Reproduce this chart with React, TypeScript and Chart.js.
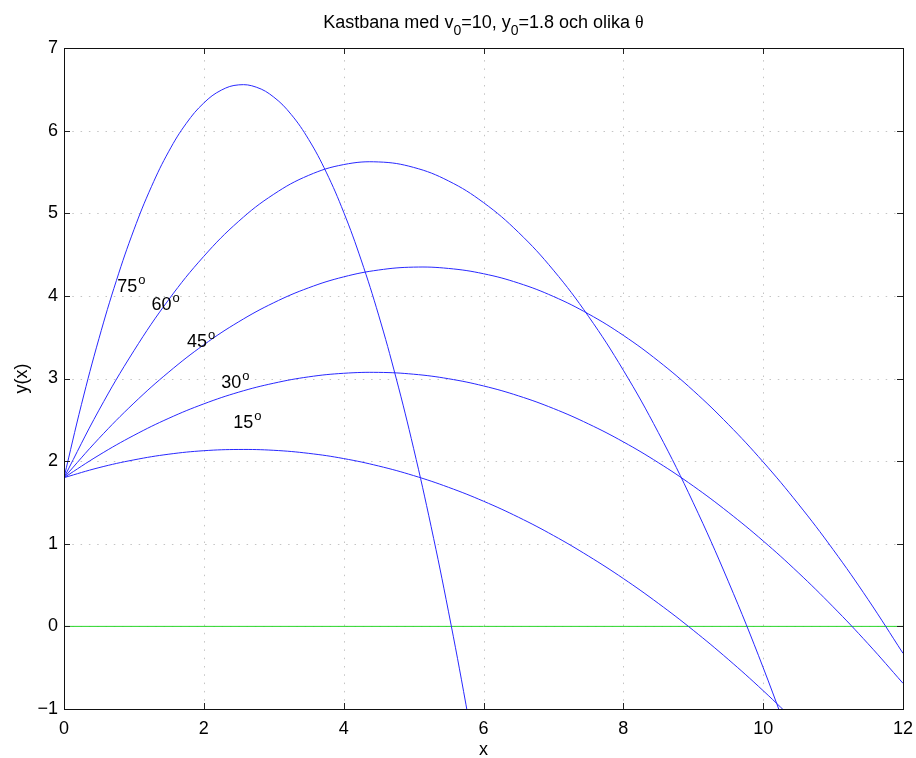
import { useEffect, useRef } from "react";
import { Chart, registerables } from "chart.js";

Chart.register(...registerables);

// sample x positions (step 0.5) for 15°, 30°, 45°, 60°
const xs = [0, 0.5, 1, 1.5, 2, 2.5, 3, 3.5, 4, 4.5, 5, 5.5, 6, 6.5, 7, 7.5, 8, 8.5, 9, 9.5, 10, 10.5, 11, 11.5, 12];
// finer x positions (step 0.25) for 75°
const xs75 = [0, 0.25, 0.5, 0.75, 1, 1.25, 1.5, 1.75, 2, 2.25, 2.5, 2.75, 3, 3.25, 3.5, 3.75, 4, 4.25, 4.5, 4.75, 5, 5.25, 5.5, 5.75, 6];

const y15 = [1.8, 1.921, 2.015, 2.084, 2.126, 2.141, 2.131, 2.094, 2.031, 1.941, 1.825, 1.683, 1.515, 1.321, 1.1, 0.852, 0.579, 0.279, -0.047, -0.399, -0.778, -1.183];
const y30 = [1.8, 2.072, 2.312, 2.519, 2.693, 2.835, 2.943, 3.02, 3.063, 3.074, 3.052, 2.997, 2.91, 2.79, 2.637, 2.451, 2.233, 1.982, 1.699, 1.382, 1.034, 0.652, 0.237, -0.21, -0.689];
const y45 = [1.8, 2.275, 2.702, 3.079, 3.408, 3.687, 3.917, 4.098, 4.23, 4.313, 4.348, 4.332, 4.268, 4.155, 3.993, 3.782, 3.522, 3.212, 2.854, 2.446, 1.99, 1.484, 0.93, 0.326, -0.326];
const y60 = [1.8, 2.617, 3.336, 3.957, 4.479, 4.904, 5.23, 5.459, 5.589, 5.621, 5.555, 5.391, 5.129, 4.769, 4.311, 3.754, 3.1, 2.347, 1.496, 0.547, -0.499, -1.645];
const y75 = [1.8, 2.687, 3.483, 4.187, 4.8, 5.321, 5.751, 6.089, 6.335, 6.49, 6.554, 6.526, 6.406, 6.195, 5.892, 5.498, 5.013, 4.435, 3.767, 3.006, 2.155, 1.211, 0.176, -0.95, -2.168];

const groundX = [0, 12];
const groundY = [0, 0];

const xTicks = [0, 2, 4, 6, 8, 10, 12];
const yTicks = [-1, 0, 1, 2, 3, 4, 5, 6, 7];

const angleLabels = ["75", "60", "45", "30", "15"];
const angleLabelX = [0.76, 1.25, 1.76, 2.25, 2.42];
const angleLabelY = [4.05, 3.83, 3.38, 2.88, 2.4];

const FONT = '"Liberation Sans", Arial, Helvetica, sans-serif';
const LINE_BLUE = "rgb(40,40,255)";

function pts(xv: number[], yv: number[]) {
  return yv.map((y, i) => ({ x: xv[i], y }));
}

const framePlugin = {
  id: "matlabFrame",
  beforeDatasetsDraw(chart: any) {
    const { ctx, chartArea: a, scales } = chart;
    ctx.save();
    ctx.strokeStyle = "#c4c4c4";
    ctx.lineWidth = 1;
    ctx.setLineDash([1.5, 6.8]);
    xTicks.forEach((t) => {
      if (t === xTicks[0] || t === xTicks[xTicks.length - 1]) return;
      const px = Math.round(scales.x.getPixelForValue(t)) + 0.5;
      ctx.beginPath();
      ctx.moveTo(px, a.bottom);
      ctx.lineTo(px, a.top);
      ctx.stroke();
    });
    yTicks.forEach((t) => {
      if (t === yTicks[0] || t === yTicks[yTicks.length - 1]) return;
      const py = Math.round(scales.y.getPixelForValue(t)) + 0.5;
      ctx.beginPath();
      ctx.moveTo(a.left, py);
      ctx.lineTo(a.right, py);
      ctx.stroke();
    });
    ctx.restore();
  },
  afterDatasetsDraw(chart: any) {
    const { ctx, chartArea: a, scales } = chart;
    ctx.save();
    ctx.setLineDash([]);
    ctx.strokeStyle = "#222";
    ctx.lineWidth = 1;
    const tl = 6;
    xTicks.forEach((t) => {
      const px = Math.round(scales.x.getPixelForValue(t)) + 0.5;
      ctx.beginPath();
      ctx.moveTo(px, a.bottom);
      ctx.lineTo(px, a.bottom - tl);
      ctx.moveTo(px, a.top);
      ctx.lineTo(px, a.top + tl);
      ctx.stroke();
    });
    yTicks.forEach((t) => {
      const py = Math.round(scales.y.getPixelForValue(t)) + 0.5;
      ctx.beginPath();
      ctx.moveTo(a.left, py);
      ctx.lineTo(a.left + tl, py);
      ctx.moveTo(a.right, py);
      ctx.lineTo(a.right - tl, py);
      ctx.stroke();
    });
    ctx.strokeStyle = "#111";
    ctx.strokeRect(Math.round(a.left) + 0.5, Math.round(a.top) + 0.5, Math.round(a.right - a.left), Math.round(a.bottom - a.top));

    // angle labels
    ctx.fillStyle = "#000";
    ctx.textAlign = "left";
    ctx.textBaseline = "alphabetic";
    angleLabels.forEach((lab, i) => {
      const px = scales.x.getPixelForValue(angleLabelX[i]);
      const py = scales.y.getPixelForValue(angleLabelY[i]);
      ctx.font = `18px ${FONT}`;
      ctx.fillText(lab, px, py);
      const w = ctx.measureText(lab).width;
      ctx.font = `13px ${FONT}`;
      ctx.fillText("o", px + w + 1, py - 8);
    });

    // axis titles
    ctx.font = `18px ${FONT}`;
    ctx.textAlign = "center";
    ctx.fillText("x", (a.left + a.right) / 2, 755);
    ctx.save();
    ctx.translate(27, (a.top + a.bottom) / 2);
    ctx.rotate(-Math.PI / 2);
    ctx.fillText("y(x)", 0, 0);
    ctx.restore();

    // title with subscripts
    const parts: { t: string; sub?: boolean; serif?: boolean }[] = [
      { t: "Kastbana med v" },
      { t: "0", sub: true },
      { t: "=10, y" },
      { t: "0", sub: true },
      { t: "=1.8 och olika " },
      { t: "\u03b8", serif: true },
    ];
    const fontFor = (p: any) =>
      p.sub ? `14px ${FONT}` : p.serif ? `18px "Liberation Serif", "DejaVu Serif", serif` : `18px ${FONT}`;
    let total = 0;
    parts.forEach((p) => {
      ctx.font = fontFor(p);
      total += ctx.measureText(p.t).width;
    });
    let cx = (a.left + a.right) / 2 - total / 2;
    ctx.textAlign = "left";
    parts.forEach((p) => {
      ctx.font = fontFor(p);
      ctx.fillText(p.t, cx, p.sub ? 35 : 28);
      cx += ctx.measureText(p.t).width;
    });
    ctx.restore();
  },
};

export default function App() {
  const ref = useRef<HTMLCanvasElement | null>(null);
  useEffect(() => {
    document.body.style.margin = "0";
    const canvas = ref.current!;
    const ds = (data: any[], color: string) => ({
      data,
      borderColor: color,
      borderWidth: 1,
      pointRadius: 0,
      tension: 0.4,
      fill: false,
    });
    const chart = new Chart(canvas, {
      type: "line",
      data: {
        datasets: [
          ds(pts(xs75, y75), LINE_BLUE),
          ds(pts(xs, y60), LINE_BLUE),
          ds(pts(xs, y45), LINE_BLUE),
          ds(pts(xs, y30), LINE_BLUE),
          ds(pts(xs, y15), LINE_BLUE),
          { ...ds(pts(groundX, groundY), "rgb(40,215,40)"), tension: 0 },
        ],
      },
      options: {
        animation: false,
        responsive: false,
        devicePixelRatio: 1,
        layout: { padding: { top: 48, right: 13, left: 0, bottom: 0 } },
        plugins: { legend: { display: false }, tooltip: { enabled: false }, title: { display: false } },
        scales: {
          x: {
            type: "linear",
            min: 0,
            max: 12,
            grid: { display: false, drawTicks: false },
            border: { display: false },
            afterBuildTicks: (s: any) => {
              s.ticks = xTicks.map((v) => ({ value: v }));
            },
            afterFit: (s: any) => {
              s.height = 49;
              s.paddingLeft = 0;
              s.paddingRight = 0;
            },
            ticks: { color: "#000", padding: 9, font: { family: FONT, size: 18 }, maxRotation: 0 },
          },
          y: {
            type: "linear",
            min: -1,
            max: 7,
            grid: { display: false, drawTicks: false },
            border: { display: false },
            afterBuildTicks: (s: any) => {
              s.ticks = yTicks.map((v) => ({ value: v }));
            },
            afterFit: (s: any) => {
              s.width = 64;
              s.paddingTop = 0;
              s.paddingBottom = 0;
            },
            ticks: {
              color: "#000",
              padding: 6,
              font: { family: FONT, size: 18 },
              callback: (v: any) => (Number(v) < 0 ? "\u2212" + Math.abs(Number(v)) : String(v)),
            },
          },
        },
      },
      plugins: [framePlugin],
    } as any);
    return () => chart.destroy();
  }, []);
  return (
    <div style={{ width: 916, height: 758, background: "#fff" }}>
      <canvas ref={ref} width={916} height={758} style={{ display: "block" }} />
    </div>
  );
}
